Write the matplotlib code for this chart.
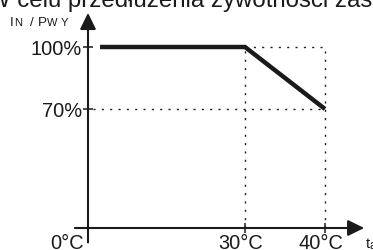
import numpy as np
import matplotlib
matplotlib.use('Agg')
import matplotlib.pyplot as plt

plt.rcParams['font.family'] = ['Liberation Sans', 'DejaVu Sans']

# Derating curve: output current / power vs ambient temperature
temps = [2.3, 30, 40]      # °C
load = [100, 100, 70]      # % of nominal

xticks = [30, 40]
xticklabels = ['30°C', '40°C']
yticks = [70, 100]
yticklabels = ['70%', '100%']

title = 'W celu przedłużenia żywotności zas'

ink = '#1a1a1a'
W, H = 373, 251
fig = plt.figure(figsize=(W / 100, H / 100), dpi=100)
ax = fig.add_axes([0, 0, 1, 1])
ax.set_axis_off()


def px(x, y):
    # pixel position (from top-left) -> figure fraction
    return x / W, 1 - y / H


def piecewise(knots_in, knots_out):
    # schematic axis, not to scale: piecewise linear with linear ends
    ki = np.asarray(knots_in, float)
    ko = np.asarray(knots_out, float)
    s0 = (ko[1] - ko[0]) / (ki[1] - ki[0])
    s1 = (ko[-1] - ko[-2]) / (ki[-1] - ki[-2])

    def f(v):
        v = np.asarray(v, float)
        out = np.interp(v, ki, ko)
        out = np.where(v < ki[0], ko[0] + (v - ki[0]) * s0, out)
        out = np.where(v > ki[-1], ko[-1] + (v - ki[-1]) * s1, out)
        return out
    return f


# where 0/30/40 °C and 0/70/100 % sit on the drawing
fx = piecewise([0, 30, 40], [88, 245, 325])
fx_inv = piecewise([88, 245, 325], [0, 30, 40])
fy = piecewise([0, 70, 100], [22, 141, 203])
fy_inv = piecewise([22, 141, 203], [0, 70, 100])
ax.set_xscale('function', functions=(fx, fx_inv))
ax.set_yscale('function', functions=(fy, fy_inv))
ax.set_xlim(float(fx_inv(0)), float(fx_inv(W)))
ax.set_ylim(float(fy_inv(0)), float(fy_inv(H)))

# axes with arrow heads
arrow = dict(arrowstyle='-|>,head_length=0.55,head_width=0.27',
             mutation_scale=18, lw=1.5, color=ink, shrinkA=0, shrinkB=0)
ax.annotate('', xy=(44.9, 0), xytext=(-2.5, 0), arrowprops=arrow)
ax.annotate('', xy=(0, 116.5), xytext=(0, -8.5), arrowprops=arrow)

# dotted guides
dots = dict(color=ink, lw=1.0, linestyle=(0, (1.5, 4.5)))
ax.hlines(100, 30, 40, **dots)
ax.hlines(70, 0.9, 40, **dots)
ax.vlines(xticks, 0, 100, **dots)

# tick marks
ax.plot([0] * len(yticks), yticks, ls='none', marker='_', ms=7, mew=1.1, color=ink)
ax.plot(xticks, [0] * len(xticks), ls='none', marker='|', ms=7.5, mew=1.1, color=ink)

# derating curve
ax.plot(temps, load, color=ink, lw=3.2, solid_capstyle='butt', solid_joinstyle='miter')

# tick labels
fs = 14.4
for v, lbl in zip(yticks, yticklabels):
    ax.annotate(lbl, xy=(0, v), xytext=(-4.3, -5.1), textcoords='offset points',
                ha='right', va='baseline', fontsize=fs, color=ink)
for t, lbl in zip(xticks, xticklabels):
    ax.annotate(lbl, xy=(t, 0), xytext=(-3, -14.4), textcoords='offset points',
                ha='center', va='baseline', fontsize=fs, color=ink)
ax.annotate('0°C', xy=(0, 0), xytext=(-3, -14.4), textcoords='offset points',
            ha='right', va='baseline', fontsize=fs, color=ink)

# axis titles: I_N / P_WY (small caps) and t_a
big, small = 9.6, 8.0
for s, x, size in [('I', 9.4, big), ('N', 14.4, small), ('/', 29.5, big),
                   ('P', 38.0, big), ('W', 47.3, small), ('Y', 61.0, small)]:
    fig.text(*px(x, 25.5), s, fontsize=size, color=ink, ha='left', va='baseline')
fig.text(*px(365.5, 248), 't', fontsize=10.5, color=ink, ha='left', va='baseline')
fig.text(*px(369.5, 249.5), 'a', fontsize=8.5, color=ink, ha='left', va='baseline')

# page text cut off above the chart
fig.text(*px(-12, 7), title, fontsize=17.3, color=ink, ha='left', va='baseline')

fig.savefig('out.png', dpi=100)
